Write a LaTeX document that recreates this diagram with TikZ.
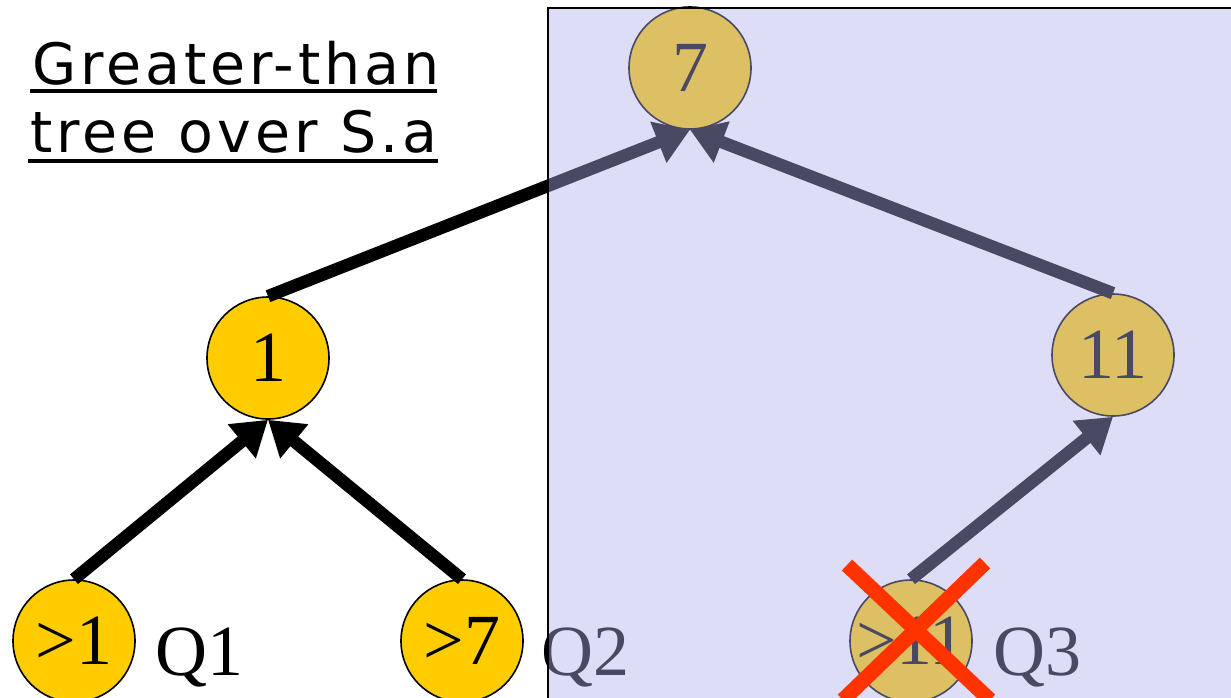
\documentclass[tikz,border=0pt]{standalone}
\usepackage{fontspec}
\setmainfont{Liberation Serif}
\newfontfamily\titlefont[LetterSpace=7]{DejaVu Sans}
\usetikzlibrary{arrows.meta}
\definecolor{goldfill}{RGB}{255,204,0}
\definecolor{veil}{RGB}{174,174,239}
\definecolor{crossred}{RGB}{255,51,0}

\begin{document}
\begin{tikzpicture}[x=1pt,y=-1pt,
  keynode/.style={circle, draw=black, line width=1.6pt, fill=goldfill,
    minimum size=122pt, inner sep=0pt, font=\fontsize{72}{80}\selectfont},
  link/.style={line width=12.5pt, -{Triangle[length=34pt,width=42pt]}},
  qlabel/.style={anchor=base west, inner sep=0pt, font=\fontsize{72}{80}\selectfont},
  heading/.style={anchor=base west, inner sep=0pt, font=\fontsize{57}{66}\titlefont},
  strike/.style={crossred, line width=15pt},
]
\useasboundingbox (0,0) rectangle (1231,697);

% title
\node[heading] (title1) at (32,84) {Greater-than};
\node[heading] (title2) at (30,152) {tree over S.a};
\draw[line width=3.5pt] (30,91) -- (437,91);
\draw[line width=3.5pt] (28,161) -- (438,161);

% tree nodes
\node[keynode] (n7)  at (690,68)   {7};
\node[keynode] (n1)  at (268,358)  {1};
\node[keynode] (n11) at (1113,355) {11};
\node[keynode] (q1)  at (74,641)   {>1};
\node[keynode] (q2)  at (462,641)  {>7};
\node[keynode] (q3)  at (911,641)  {>11};

% query labels
\node[qlabel] (l1) at (155,675) {Q1};
\node[qlabel] (l2) at (541,675) {Q2};
\node[qlabel] (l3) at (993,675) {Q3};

% edges (child -> parent)
\draw[link] (q1.north) -- (n1.south);
\draw[link] (q2.north) -- (n1.south);
\draw[link] (n1.north) -- (n7.south);
\draw[link] (n11.north) -- (n7.south);
\draw[link] (q3.north) -- (n11.south);

% translucent panel over the right part
\fill[veil, fill opacity=0.42] (548,8) rectangle (1240,705);
\draw[line width=2pt] (548,705) -- (548,8) -- (1240,8);

% cross over the removed query
\draw[strike] (847,565) -- (990,700);
\draw[strike] (985,563) -- (843,700);
\end{tikzpicture}
\end{document}
